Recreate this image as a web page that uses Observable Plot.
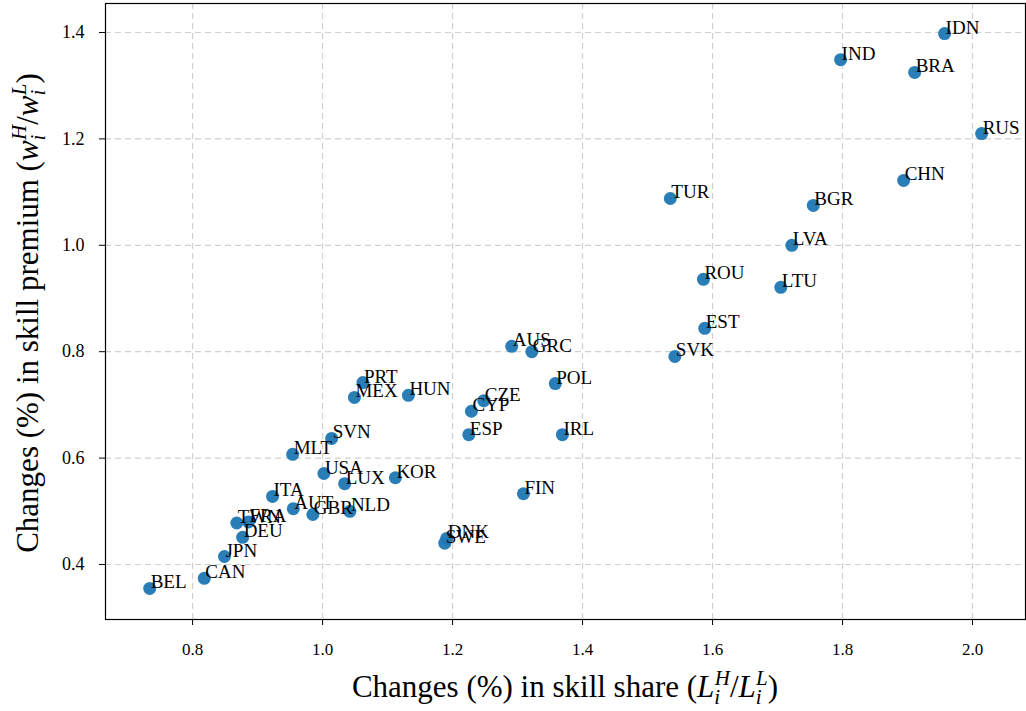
<!DOCTYPE html>
<html>
<head>
<meta charset="utf-8">
<script src="https://cdn.jsdelivr.net/npm/d3@7"></script>
<script src="https://cdn.jsdelivr.net/npm/@observablehq/plot@0.6"></script>
<style>
  html, body { margin: 0; padding: 0; background: #fff; }
  #chart svg { display: block; }
  #chart svg text { font-family: 'Liberation Serif', 'DejaVu Serif', serif; font-variant: normal; }
</style>
</head>
<body>
<div id="chart"></div>
<script>
const countries = ["IDN","IND","BRA","RUS","CHN","TUR","BGR","LVA","ROU","LTU","EST","SVK","AUS","GRC","POL","CZE","CYP","ESP","IRL","FIN","PRT","MEX","HUN","SVN","MLT","USA","LUX","KOR","ITA","AUT","GBR","NLD","TWN","FRA","DEU","JPN","CAN","BEL","DNK","SWE"];
const skillShare = [1.957,1.797,1.911,2.014,1.894,1.535,1.755,1.722,1.586,1.705,1.588,1.542,1.291,1.322,1.358,1.248,1.229,1.225,1.369,1.309,1.062,1.049,1.132,1.014,0.954,1.002,1.034,1.112,0.923,0.955,0.985,1.042,0.868,0.886,0.877,0.849,0.818,0.734,1.191,1.188];
const skillPremium = [1.398,1.349,1.325,1.210,1.122,1.088,1.075,1.000,0.936,0.921,0.844,0.791,0.810,0.800,0.740,0.708,0.688,0.644,0.644,0.533,0.742,0.714,0.718,0.637,0.607,0.571,0.552,0.563,0.528,0.505,0.494,0.500,0.478,0.480,0.451,0.415,0.374,0.355,0.449,0.440];
const xTicks = [0.8,1.0,1.2,1.4,1.6,1.8,2.0];
const yTicks = [0.4,0.6,0.8,1.0,1.2,1.4];

const data = countries.map((c, i) => ({country: c, x: skillShare[i], y: skillPremium[i]}));
const serif = "'Liberation Serif', 'DejaVu Serif', serif";

const chart = Plot.plot({
  width: 1026,
  height: 711,
  marginLeft: 105,
  marginRight: 1,
  marginTop: 3,
  marginBottom: 92,
  style: {fontFamily: serif, background: "#fff"},
  x: {domain: [0.666, 2.0815]},
  y: {domain: [0.2966, 1.4545]},
  marks: [
    Plot.gridX(xTicks, {stroke: "#d0d0d0", strokeOpacity: 1, strokeDasharray: "6,4", strokeWidth: 1.2}),
    Plot.gridY(yTicks, {stroke: "#d0d0d0", strokeOpacity: 1, strokeDasharray: "6,4", strokeWidth: 1.2}),
    Plot.axisX({ticks: xTicks, tickFormat: d3.format(".1f"), tickSize: 6, tickPadding: 17, fontSize: 17, fontFamily: serif, label: null, stroke: "black"}),
    Plot.axisY({ticks: yTicks, tickFormat: d3.format(".1f"), tickSize: 6, tickPadding: 15, fontSize: 18, fontFamily: serif, label: null, stroke: "black"}),
    Plot.dot(data, {x: "x", y: "y", r: 6.5, fill: "#1f77b4", fillOpacity: 0.95, stroke: null}),
    Plot.text(data, {x: "x", y: "y", text: "country", textAnchor: "start", lineAnchor: "bottom", dx: 1, dy: 0, fontSize: 19, fill: "black", fontFamily: serif}),
    Plot.frame({stroke: "black", strokeWidth: 1.2})
  ]
});
document.getElementById("chart").appendChild(chart);

const svg = d3.select(chart);
function mathLabel(sel, prefix, v) {
  sel.append("tspan").text(prefix);
  sel.append("tspan").attr("font-style", "italic").text(v);
  sel.append("tspan").attr("font-style", "italic").attr("font-size", 21).attr("dy", 7).text("i");
  sel.append("tspan").attr("font-style", "italic").attr("font-size", 21).attr("dx", -5.5).attr("dy", -19).text("H");
  sel.append("tspan").attr("dy", 12).text("/");
  sel.append("tspan").attr("font-style", "italic").text(v);
  sel.append("tspan").attr("font-style", "italic").attr("font-size", 21).attr("dy", 7).text("i");
  sel.append("tspan").attr("font-style", "italic").attr("font-size", 21).attr("dx", -5.5).attr("dy", -19).text("L");
  sel.append("tspan").attr("dy", 12).text(")");
}
// x axis label
const xl = svg.append("text")
  .attr("x", 565).attr("y", 697)
  .attr("text-anchor", "middle")
  .attr("font-family", serif).attr("font-size", 31).attr("fill", "black");
mathLabel(xl, "Changes (%) in skill share (", "L");

// y axis label
const yl = svg.append("text")
  .attr("transform", "translate(38,313) rotate(-90)")
  .attr("text-anchor", "middle")
  .attr("font-family", serif).attr("font-size", 31).attr("fill", "black");
mathLabel(yl, "Changes (%) in skill premium (", "w");
</script>
</body>
</html>
